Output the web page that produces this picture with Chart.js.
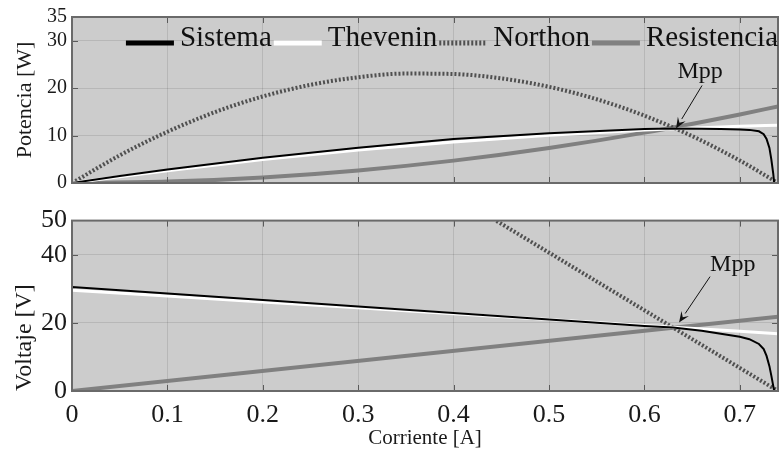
<!DOCTYPE html>
<html><head><meta charset="utf-8">
<script src="https://cdn.jsdelivr.net/npm/chart.js@4.4.1/dist/chart.umd.min.js"></script>
<style>
html,body{margin:0;padding:0;background:#fff;}
#wrap{position:relative;width:781px;height:455px;overflow:hidden;}
#c1{position:absolute;left:0;top:0;}
#c2{position:absolute;left:0;top:200px;}
</style></head><body>
<div id="wrap"><canvas id="c1" width="781" height="200"></canvas><canvas id="c2" width="781" height="255"></canvas></div>
<script>
// ---------- data ----------
const seriesNames = ['Sistema', 'Thevenin', 'Northon', 'Resistencia'];
const xTicks = [0, 0.1, 0.2, 0.3, 0.4, 0.5, 0.6, 0.7];
const powerTicks = [0, 10, 20, 30, 35];
const voltageTicks = [0, 20, 40, 50];
const xTitle = 'Corriente [A]';
const powerTitle = 'Potencia [W]';
const voltageTitle = 'Voltaje [V]';
const mppLabel = 'Mpp';
const mppCurrent = 0.63;
const mppPower = 11.5;
const mppVoltage = 18.6;

const sistemaCurrent = [0, 0.05, 0.1, 0.2, 0.3, 0.4, 0.5, 0.6, 0.63, 0.66, 0.68, 0.70, 0.71, 0.72, 0.725, 0.728, 0.731, 0.733, 0.735, 0.736];
const sistemaPower   = [0, 1.48, 2.86, 5.34, 7.44, 9.3, 10.5, 11.4, 11.5, 11.45, 11.4, 11.3, 11.2, 10.9, 10.3, 9.3, 7.4, 5.0, 2.0, 0];
const sistemaVCurrent = [0, 0, 0.05, 0.1, 0.2, 0.3, 0.4, 0.5, 0.6, 0.63, 0.66, 0.68, 0.70, 0.71, 0.72, 0.725, 0.728, 0.731, 0.733, 0.735, 0.736];
const sistemaVoltage  = [0, 30.5, 29.55, 28.6, 26.7, 24.8, 22.9, 21.0, 19.1, 18.6, 17.7, 16.8, 15.9, 15.2, 13.8, 12.3, 10.3, 7.3, 4.5, 1.5, 0];

const theveninCurrent = [0, 0.1, 0.2, 0.3, 0.4, 0.5, 0.6, 0.7, 0.74];
const theveninPower   = [0, 2.6, 4.95, 6.95, 8.65, 10.05, 11.15, 11.95, 12.2];
const theveninVoltage = [29.6, 27.9, 26.1, 24.4, 22.7, 20.95, 19.2, 17.5, 16.8];

const nortonCurrent = [0, 0.05, 0.1, 0.15, 0.2, 0.25, 0.3, 0.35, 0.4, 0.45, 0.5, 0.55, 0.6, 0.65, 0.7, 0.74];
const nortonPower   = [0, 5.83, 10.8, 14.96, 18.25, 20.7, 22.3, 23.07, 22.98, 22.05, 20.28, 17.66, 14.2, 9.89, 4.73, 0];
const nortonVCurrent = [0.445, 0.74];
const nortonVoltage  = [49.9, 0];

const resistCurrent = [0, 0.1, 0.2, 0.3, 0.4, 0.5, 0.6, 0.7, 0.74];
const resistPower   = [0, 0.3, 1.18, 2.66, 4.72, 7.38, 10.62, 14.46, 16.15];
const resistVCurrent = [0, 0.74];
const resistVoltage  = [0, 21.8];

// ---------- styles ----------
const FONT = "'Liberation Serif', 'Times New Roman', serif";
const lineColors = ['#000000', '#ffffff', '#505050', '#808080'];
const lineWidths = [2, 3, 4, 4];
const lineDashes = [[], [], [2, 2], []];

const pts = (xs, ys) => xs.map((x, i) => ({x: x, y: ys[i]}));
function ds(idx, data, smooth) {
  return {
    label: seriesNames[idx], data: data,
    borderColor: lineColors[idx], backgroundColor: lineColors[idx],
    borderWidth: lineWidths[idx], borderDash: lineDashes[idx],
    pointRadius: 0, pointHoverRadius: 0, fill: false,
    cubicInterpolationMode: smooth ? 'monotone' : 'default', tension: 0
  };
}

function drawLegend(chart) {
  const {ctx, chartArea: a} = chart;
  const fontPx = 29, lineLen = 48, gapLT = 6, gapTL = 2;
  ctx.save();
  ctx.font = fontPx + 'px ' + FONT;
  const widths = chart.data.datasets.map(d => ctx.measureText(d.label).width);
  let total = 0;
  widths.forEach((w, i) => { total += lineLen + gapLT + w + (i < widths.length - 1 ? gapTL : 0); });
  let x = a.right - total;
  const yText = a.top + 21, yLine = a.top + 26;
  ctx.textAlign = 'left'; ctx.textBaseline = 'middle';
  chart.data.datasets.forEach((d, i) => {
    ctx.beginPath();
    ctx.strokeStyle = lineColors[i]; ctx.lineWidth = 5;
    ctx.setLineDash(lineDashes[i]); ctx.lineCap = 'butt';
    ctx.moveTo(x, yLine); ctx.lineTo(x + lineLen, yLine); ctx.stroke();
    ctx.setLineDash([]);
    x += lineLen + gapLT;
    ctx.fillStyle = '#111';
    ctx.fillText(d.label, x, yText);
    x += widths[i] + gapTL;
  });
  ctx.restore();
}

function framePlugin(valueMpp, tipOff, tailOff, textOff, textAlign, withLegend) {
  return {
    id: 'frame',
    beforeDraw(chart) {
      const {ctx, chartArea: a} = chart;
      ctx.save();
      ctx.fillStyle = '#cccccc';
      ctx.fillRect(a.left, a.top, a.right - a.left, a.bottom - a.top);
      ctx.restore();
    },
    afterDatasetsDraw(chart) {
      const {ctx, chartArea: a} = chart;
      const xs = chart.scales.x, ys = chart.scales.y;
      ctx.save();
      ctx.strokeStyle = '#5a5a5a';
      ctx.lineWidth = 1;
      ctx.beginPath();
      xs.ticks.forEach(t => {
        const p = Math.round(xs.getPixelForValue(t.value)) + 0.5;
        if (p <= a.left + 1 || p >= a.right - 1) return;
        ctx.moveTo(p, a.bottom); ctx.lineTo(p, a.bottom - 6);
        ctx.moveTo(p, a.top); ctx.lineTo(p, a.top + 6);
      });
      ys.ticks.forEach(t => {
        const p = Math.round(ys.getPixelForValue(t.value)) + 0.5;
        if (p <= a.top + 1 || p >= a.bottom - 1) return;
        ctx.moveTo(a.left, p); ctx.lineTo(a.left + 6, p);
        ctx.moveTo(a.right, p); ctx.lineTo(a.right - 6, p);
      });
      ctx.stroke();
      ctx.strokeStyle = '#6a6a6a';
      ctx.lineWidth = 2;
      ctx.strokeRect(a.left, a.top, a.right - a.left, a.bottom - a.top);
      // Mpp annotation arrow
      const px = xs.getPixelForValue(mppCurrent), py = ys.getPixelForValue(valueMpp);
      const tip = {x: px + tipOff[0], y: py + tipOff[1]};
      const tail = {x: tip.x + tailOff[0], y: tip.y + tailOff[1]};
      const ang = Math.atan2(tip.y - tail.y, tip.x - tail.x);
      const L = 11, W = 4.5;
      const bx = tip.x - L * Math.cos(ang), by = tip.y - L * Math.sin(ang);
      ctx.strokeStyle = '#111'; ctx.fillStyle = '#111'; ctx.lineWidth = 1;
      ctx.beginPath(); ctx.moveTo(tail.x, tail.y); ctx.lineTo(bx, by); ctx.stroke();
      ctx.beginPath();
      ctx.moveTo(tip.x, tip.y);
      ctx.lineTo(bx + W * Math.sin(ang), by - W * Math.cos(ang));
      ctx.lineTo(tip.x - 0.6 * L * Math.cos(ang), tip.y - 0.6 * L * Math.sin(ang));
      ctx.lineTo(bx - W * Math.sin(ang), by + W * Math.cos(ang));
      ctx.closePath(); ctx.fill();
      ctx.font = '24px ' + FONT;
      ctx.textAlign = textAlign; ctx.textBaseline = 'alphabetic';
      ctx.fillText(mppLabel, tail.x + textOff[0], tail.y + textOff[1]);
      ctx.restore();
      if (withLegend) drawLegend(chart);
    }
  };
}

function xScale(showLabels) {
  return {
    type: 'linear', min: 0, max: 0.74,
    afterBuildTicks: s => { s.ticks = xTicks.map(v => ({value: v})); },
    afterFit: s => { s.height = showLabels ? 64 : 10; },
    grid: {color: 'rgba(0,0,0,0.1)', lineWidth: 1, drawTicks: false},
    border: {display: false},
    ticks: {display: showLabels, padding: 9, color: '#1a1a1a', font: {family: FONT, size: 26},
      maxRotation: 0, autoSkip: false,
      callback: v => (v === 0 ? '0' : v.toFixed(1))},
    title: {display: showLabels, text: xTitle, color: '#1a1a1a', font: {family: FONT, size: 21},
      padding: {top: 0, bottom: 4}}
  };
}
function yScale(max, ticks, title, tickSize, titleSize, titlePad, align) {
  return {
    type: 'linear', min: 0, max: max,
    afterBuildTicks: s => { s.ticks = ticks.map(v => ({value: v})); },
    afterFit: s => { s.width = 72; },
    grid: {color: 'rgba(0,0,0,0.1)', lineWidth: 1, drawTicks: false},
    border: {display: false},
    ticks: {padding: 5, color: '#1a1a1a', font: {family: FONT, size: tickSize}, autoSkip: false,
      callback: v => String(v)},
    title: {display: true, text: title, color: '#1a1a1a', align: align,
      font: {family: FONT, size: titleSize}, padding: {top: titlePad, bottom: 0}}
  };
}

// ---------- top chart: power ----------
new Chart(document.getElementById('c1'), {
  type: 'line',
  data: {datasets: [
    ds(0, pts(sistemaCurrent, sistemaPower), false),
    ds(1, pts(theveninCurrent, theveninPower), true),
    ds(2, pts(nortonCurrent, nortonPower), true),
    ds(3, pts(resistCurrent, resistPower), true)
  ]},
  options: {
    responsive: false, animation: false, devicePixelRatio: 1,
    layout: {padding: {left: 0, right: 3, top: 12, bottom: 0}},
    scales: {x: xScale(false), y: yScale(35, powerTicks, powerTitle, 20, 22, 12, 'center')},
    plugins: {tooltip: {enabled: false}, legend: {display: false}}
  },
  plugins: [framePlugin(mppPower, [3, 0], [26, -43], [-2, -7], 'center', true)]
});

// ---------- bottom chart: voltage ----------
new Chart(document.getElementById('c2'), {
  type: 'line',
  data: {datasets: [
    ds(0, pts(sistemaVCurrent, sistemaVoltage), false),
    ds(1, pts(theveninCurrent, theveninVoltage), false),
    ds(2, pts(nortonVCurrent, nortonVoltage), false),
    ds(3, pts(resistVCurrent, resistVoltage), false)
  ]},
  options: {
    responsive: false, animation: false, devicePixelRatio: 1,
    layout: {padding: {left: 0, right: 3, top: 9, bottom: 0}},
    scales: {x: xScale(true), y: yScale(50, voltageTicks, voltageTitle, 26, 24, 10, 'start')},
    plugins: {tooltip: {enabled: false}, legend: {display: false}}
  },
  plugins: [framePlugin(mppVoltage, [6, -5], [31, -46], [0, -6], 'left', false)]
});
</script>
</body></html>
